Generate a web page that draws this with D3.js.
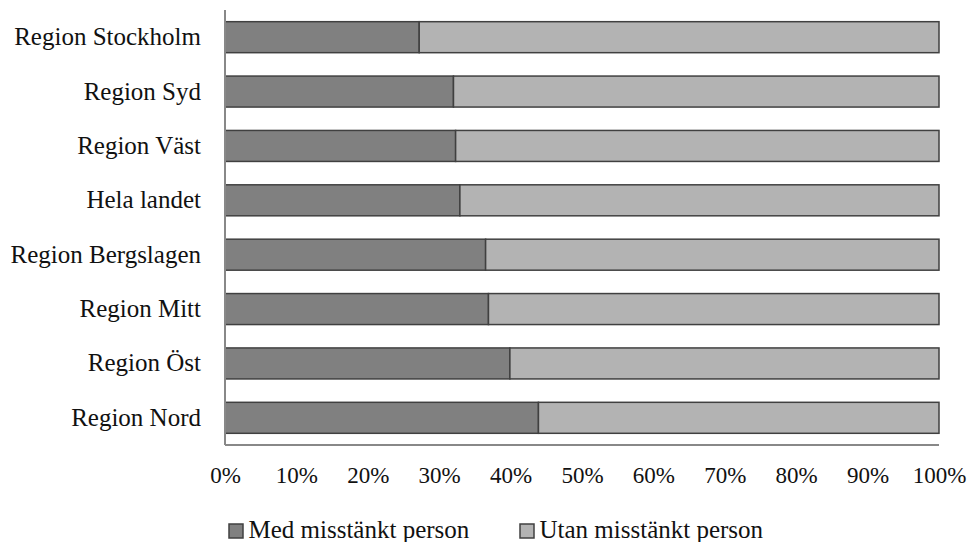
<!DOCTYPE html>
<html>
<head>
<meta charset="utf-8">
<script src="https://cdn.jsdelivr.net/npm/d3@7"></script>
<style>
  html, body { margin: 0; padding: 0; background: #fff; }
  svg { display: block; font-family: "Liberation Serif", "DejaVu Serif", serif; }
</style>
</head>
<body>
<svg id="chart" width="970" height="542" font-family="Liberation Serif, DejaVu Serif, serif"></svg>
<script>
const categories = ["Region Stockholm", "Region Syd", "Region Väst", "Hela landet",
                    "Region Bergslagen", "Region Mitt", "Region Öst", "Region Nord"];
const medValues = [27.2, 32.0, 32.3, 32.9, 36.5, 36.9, 39.9, 43.9];
const utanValues = medValues.map(v => 100 - v);
const seriesNames = ["Med misstänkt person", "Utan misstänkt person"];
const seriesColors = ["#808080", "#b3b3b3"];
const tickValues = [0, 10, 20, 30, 40, 50, 60, 70, 80, 90, 100];

(function () {
const svg = d3.select("#chart");
const mLeft = 225, mRight = 939, mTop = 10, mBottom = 445;
const FONT = "Liberation Serif, DejaVu Serif, serif";

const x = d3.scaleLinear().domain([0, 100]).range([mLeft, mRight]);
const y = d3.scaleBand().domain(categories).range([mTop, mBottom])
  .paddingInner(0.43).paddingOuter(0.215);

const rows = categories.map((c, i) => ({cat: c, med: medValues[i], utan: utanValues[i]}));
const stack = d3.stack().keys(["med", "utan"]);
const layers = stack(rows);

svg.append("g").selectAll("g").data(layers).join("g")
  .attr("fill", (d, i) => seriesColors[i])
  .selectAll("rect").data(d => d).join("rect")
  .attr("x", d => x(d[0]))
  .attr("y", d => y(d.data.cat))
  .attr("width", d => x(d[1]) - x(d[0]))
  .attr("height", y.bandwidth())
  .attr("stroke", "#404040")
  .attr("stroke-width", 1.5);

// axis lines
svg.append("line").attr("x1", mLeft).attr("x2", mLeft).attr("y1", mTop).attr("y2", mBottom)
  .attr("stroke", "#888").attr("stroke-width", 2);
svg.append("line").attr("x1", mLeft).attr("x2", mRight).attr("y1", mBottom).attr("y2", mBottom)
  .attr("stroke", "#888").attr("stroke-width", 2);

// category labels
svg.append("g").selectAll("text").data(categories).join("text")
  .attr("x", mLeft - 24)
  .attr("y", d => y(d) + y.bandwidth() / 2)
  .attr("dy", "0.32em")
  .attr("text-anchor", "end")
  .attr("font-family", FONT)
  .attr("font-size", 25)
  .attr("fill", "#111")
  .text(d => d);

// x tick labels
const xAxis = d3.axisBottom(x).tickValues(tickValues).tickSize(0).tickPadding(0)
  .tickFormat(d => d + "%");
const gx = svg.append("g").attr("transform", `translate(0,${483})`).call(xAxis);
gx.attr("font-family", FONT);
gx.select(".domain").remove();
gx.selectAll("text").attr("font-size", 23).attr("fill", "#111")
  .attr("font-family", FONT).attr("dy", 0).attr("y", 0);

// legend
const legendX = [229, 520];
const lg = svg.append("g").selectAll("g").data(seriesNames).join("g")
  .attr("transform", (d, i) => `translate(${legendX[i]},524)`);
lg.append("rect").attr("width", 14).attr("height", 14)
  .attr("fill", (d, i) => seriesColors[i]).attr("stroke", "#404040").attr("stroke-width", 1.5);
lg.append("text").attr("x", 19.5).attr("y", 14).attr("font-size", 25).attr("fill", "#111")
  .attr("font-family", FONT)
  .text(d => d);
})();
</script>
</body>
</html>
